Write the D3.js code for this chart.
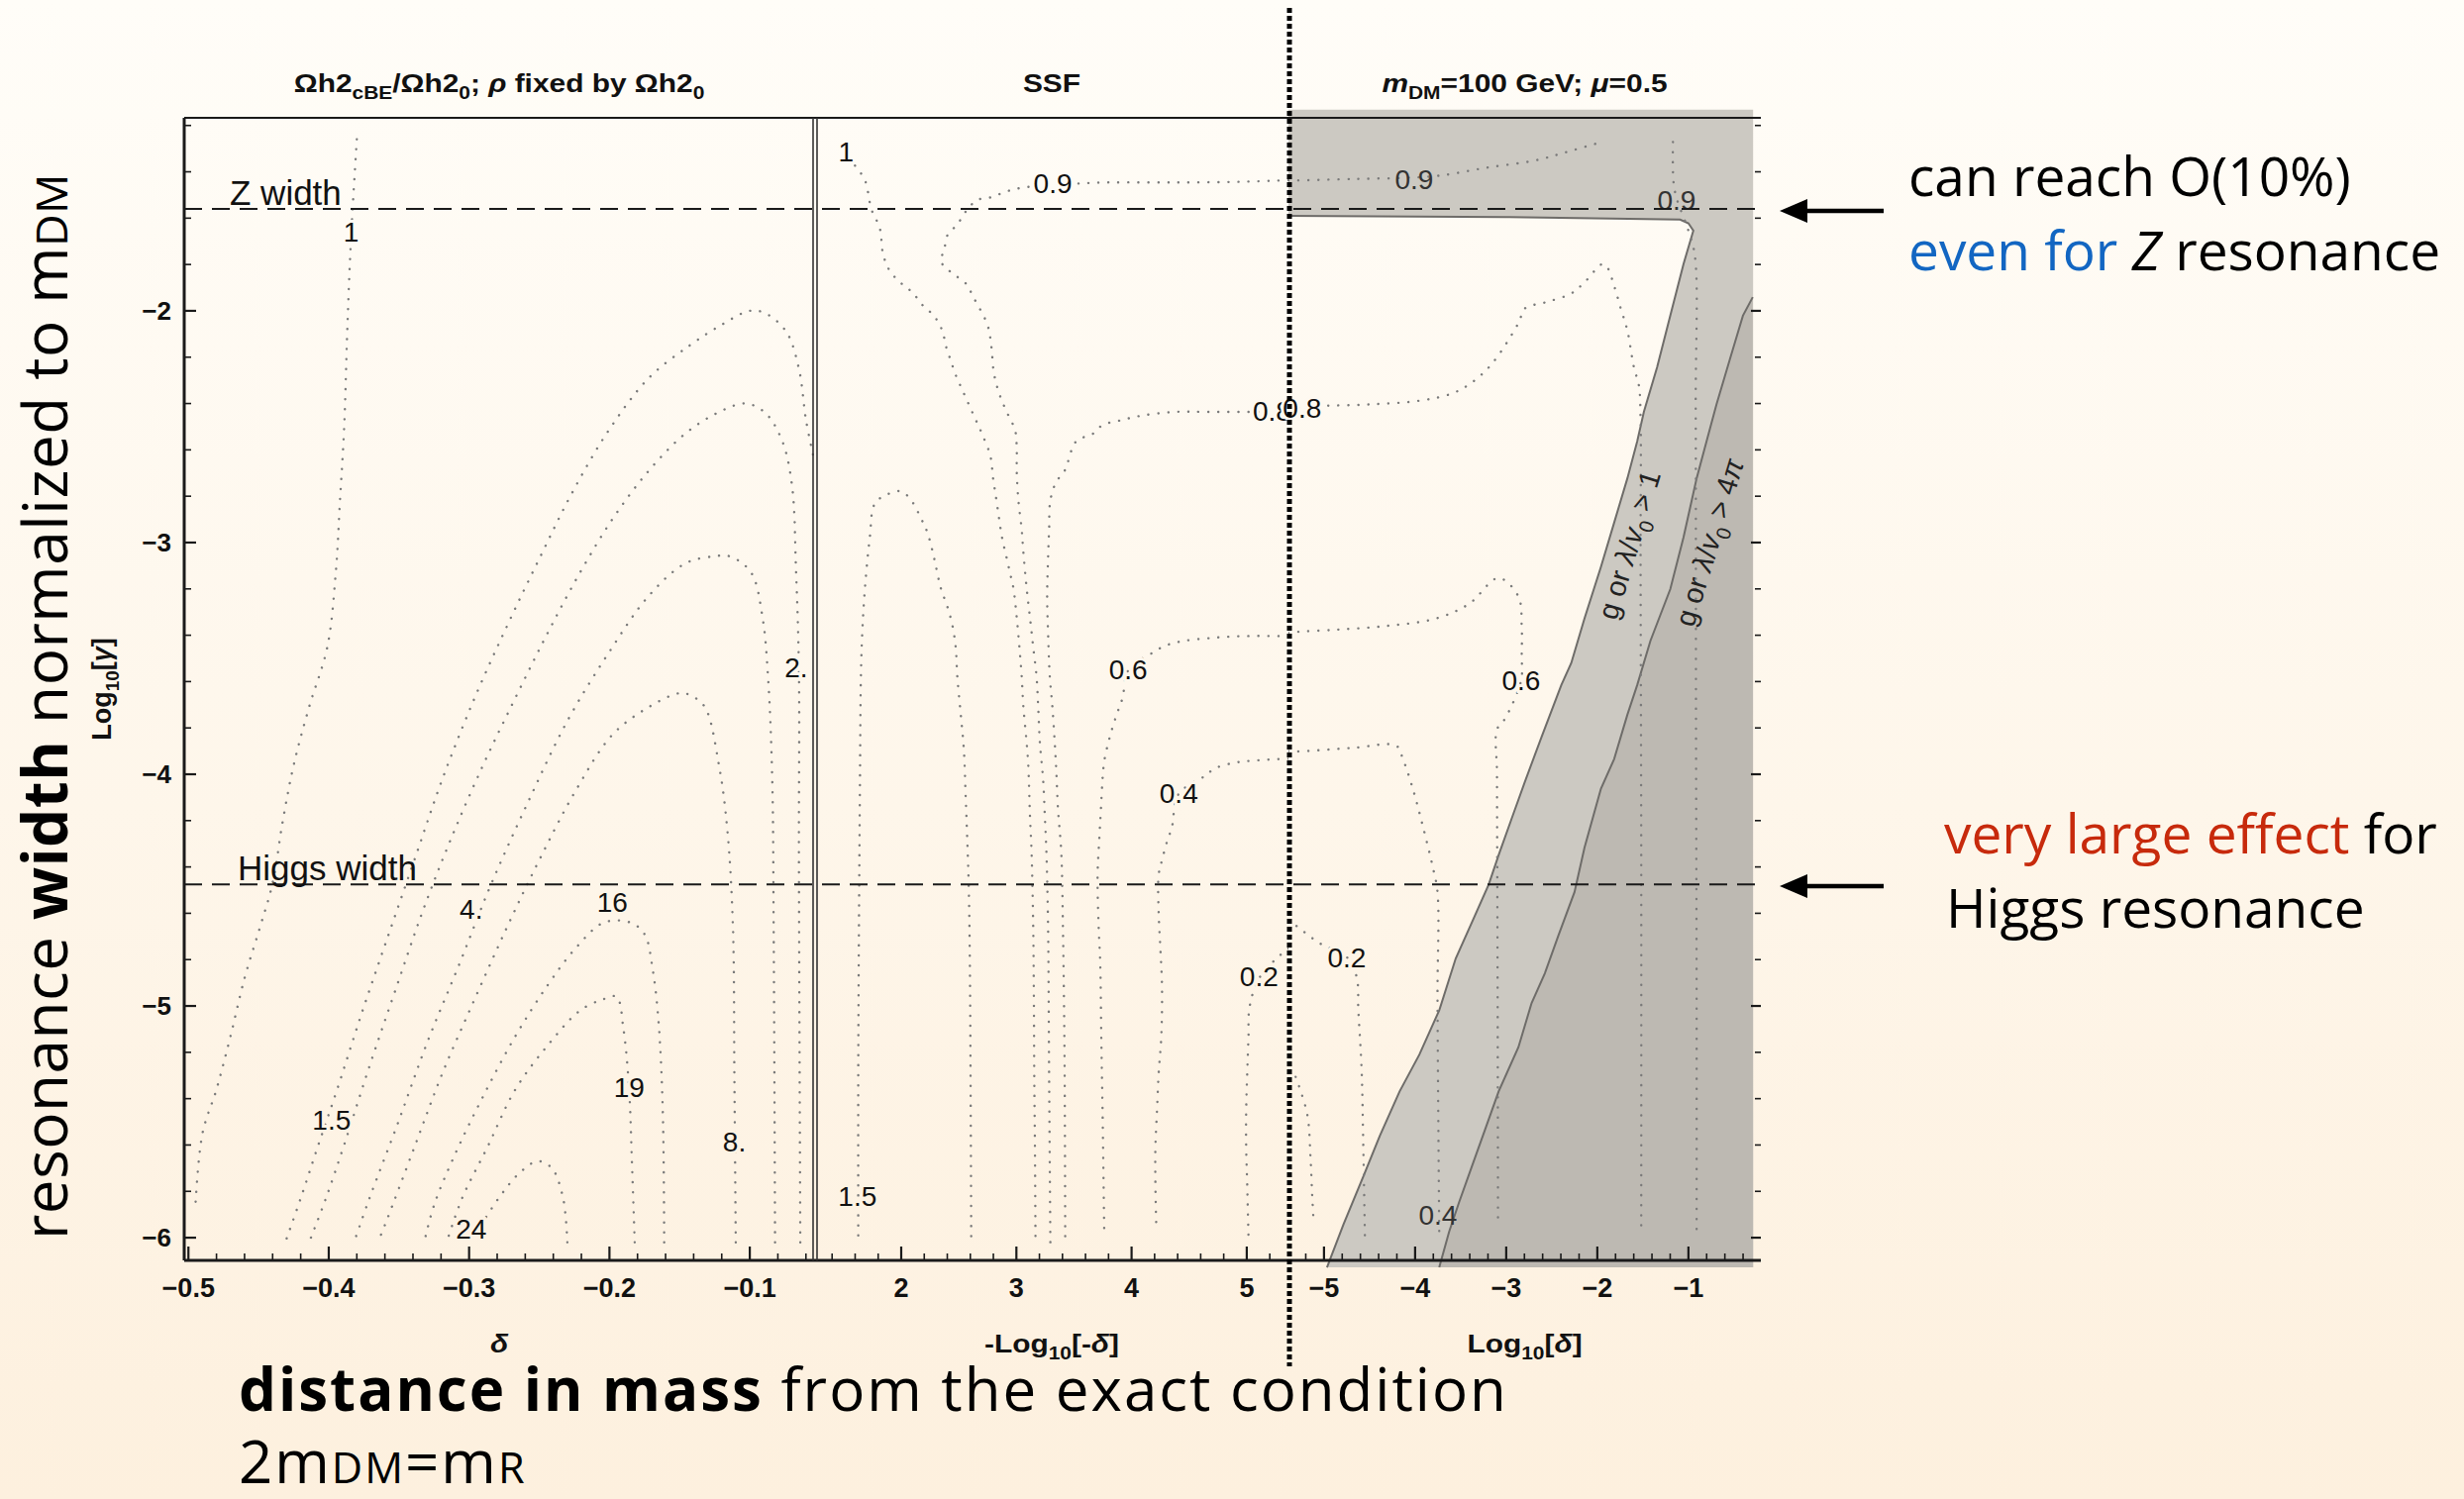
<!DOCTYPE html>
<html>
<head>
<meta charset="utf-8">
<title>Relic density ratio contours</title>
<script src="https://cdn.jsdelivr.net/npm/d3@7"></script>
<style>
  html, body { margin: 0; padding: 0; background: #fdf6ec; }
  svg text { font-family: "Liberation Sans", Arial, Helvetica, sans-serif; }
  svg .slide text { font-family: "Open Sans", Lato, sans-serif; }
</style>
</head>
<body>
<div id="chart"></div>
<script>
// 1: DATA
// y axis is Log10[gamma] for all three panels
const yTicks = [-2, -3, -4, -5, -6];
const zWidth = -1.56;
const higgsWidth = -4.475;

// x ticks of the three panels: delta, -Log10[-delta], Log10[delta]
const leftTicks = [-0.5, -0.4, -0.3, -0.2, -0.1];
const midTicks = [2, 3, 4, 5];
const rightTicks = [-5, -4, -3, -2, -1];

// left panel contours  [delta, Log10 gamma]
const left_c1 = [[-0.380,-1.26],[-0.383,-1.56],[-0.385,-1.80],[-0.387,-2.12],[-0.389,-2.50],[-0.392,-2.82],[-0.395,-3.13],[-0.401,-3.45],[-0.414,-3.71],[-0.425,-3.96],[-0.433,-4.21],[-0.440,-4.47],[-0.449,-4.66],[-0.460,-4.88],[-0.470,-5.13],[-0.480,-5.36],[-0.490,-5.55],[-0.495,-5.86]];
const left_c1p5 = [[-0.055,-2.62],[-0.060,-2.47],[-0.065,-2.25],[-0.074,-2.09],[-0.089,-2.01],[-0.100,-2.00],[-0.120,-2.06],[-0.143,-2.15],[-0.172,-2.29],[-0.201,-2.52],[-0.227,-2.79],[-0.250,-3.07],[-0.273,-3.36],[-0.296,-3.67],[-0.319,-4.02],[-0.339,-4.37],[-0.359,-4.72],[-0.377,-5.04],[-0.394,-5.36],[-0.408,-5.61],[-0.420,-5.83],[-0.431,-6.02]];
const left_c2 = [[-0.064,-6.02],[-0.065,-4.34],[-0.065,-3.55],[-0.067,-3.13],[-0.070,-2.75],[-0.077,-2.56],[-0.089,-2.44],[-0.103,-2.40],[-0.123,-2.44],[-0.146,-2.53],[-0.172,-2.69],[-0.198,-2.90],[-0.221,-3.13],[-0.244,-3.39],[-0.267,-3.67],[-0.290,-3.96],[-0.313,-4.28],[-0.333,-4.59],[-0.353,-4.94],[-0.371,-5.26],[-0.388,-5.58],[-0.402,-5.83],[-0.414,-6.02]];
const left_c4 = [[-0.082,-6.02],[-0.083,-4.66],[-0.084,-4.02],[-0.087,-3.58],[-0.091,-3.32],[-0.099,-3.13],[-0.114,-3.06],[-0.126,-3.06],[-0.146,-3.09],[-0.172,-3.23],[-0.201,-3.48],[-0.230,-3.77],[-0.258,-4.12],[-0.284,-4.47],[-0.307,-4.82],[-0.330,-5.16],[-0.351,-5.51],[-0.371,-5.83],[-0.382,-6.02]];
const left_c8 = [[-0.110,-6.02],[-0.111,-5.29],[-0.112,-4.66],[-0.116,-4.24],[-0.122,-3.96],[-0.132,-3.71],[-0.142,-3.66],[-0.150,-3.65],[-0.172,-3.71],[-0.198,-3.83],[-0.224,-4.07],[-0.250,-4.37],[-0.273,-4.66],[-0.296,-4.97],[-0.319,-5.29],[-0.339,-5.61],[-0.359,-5.93],[-0.365,-6.02]];
const left_c16 = [[-0.161,-6.02],[-0.162,-5.45],[-0.165,-5.07],[-0.169,-4.85],[-0.175,-4.69],[-0.185,-4.64],[-0.204,-4.64],[-0.224,-4.75],[-0.244,-4.91],[-0.267,-5.13],[-0.290,-5.39],[-0.310,-5.64],[-0.325,-5.86],[-0.332,-6.02]];
const left_c19 = [[-0.182,-6.02],[-0.184,-5.67],[-0.186,-5.36],[-0.190,-5.10],[-0.195,-4.96],[-0.204,-4.97],[-0.221,-5.02],[-0.244,-5.17],[-0.267,-5.36],[-0.287,-5.61],[-0.305,-5.83],[-0.316,-6.02]];
const left_c24 = [[-0.230,-6.02],[-0.233,-5.83],[-0.241,-5.70],[-0.251,-5.67],[-0.264,-5.72],[-0.279,-5.83],[-0.296,-5.99]];
const leftLabels = [["1",-0.384,-1.66],["1.5",-0.398,-5.49],["2.",-0.067,-3.54],["4.",-0.2985,-4.58],["16",-0.198,-4.55],["19",-0.186,-5.35],["8.",-0.111,-5.585],["24",-0.2985,-5.96]];

// middle panel contours  [-Log10(-delta), Log10 gamma]
const mid_c1 = [[1.599,-1.373],[1.685,-1.436],[1.742,-1.563],[1.814,-1.643],[1.842,-1.754],[1.900,-1.827],[2.000,-1.881],[2.100,-1.922],[2.186,-1.976],[2.287,-2.023],[2.358,-2.087],[2.387,-2.150],[2.430,-2.214],[2.473,-2.277],[2.530,-2.341],[2.587,-2.404],[2.645,-2.468],[2.702,-2.531],[2.774,-2.626],[2.797,-2.721],[2.817,-2.785],[2.845,-2.880],[2.874,-2.975],[2.917,-3.070],[2.946,-3.134],[2.974,-3.197],[3.003,-3.324],[3.026,-3.451],[3.046,-3.578],[3.060,-3.705],[3.089,-3.864],[3.103,-3.959],[3.118,-4.181],[3.132,-4.340],[3.146,-4.657],[3.152,-4.974],[3.155,-5.292],[3.161,-5.609],[3.166,-6.021]];
const mid_c09 = [[5.362,-1.436],[4.952,-1.443],[4.379,-1.446],[3.806,-1.446],[3.490,-1.452],[3.060,-1.468],[2.917,-1.484],[2.788,-1.509],[2.659,-1.522],[2.573,-1.563],[2.487,-1.627],[2.401,-1.674],[2.373,-1.738],[2.344,-1.785],[2.430,-1.833],[2.559,-1.881],[2.630,-1.944],[2.745,-2.055],[2.774,-2.119],[2.788,-2.182],[2.802,-2.261],[2.831,-2.325],[2.874,-2.388],[2.931,-2.452],[2.989,-2.515],[3.003,-2.595],[3.003,-2.690],[3.017,-2.817],[3.046,-2.944],[3.060,-3.039],[3.089,-3.197],[3.118,-3.324],[3.146,-3.451],[3.175,-3.578],[3.189,-3.705],[3.204,-3.864],[3.232,-4.022],[3.247,-4.181],[3.261,-4.340],[3.275,-4.657],[3.284,-5.292],[3.295,-6.021]];
const mid_c08 = [[5.362,-2.436],[5.095,-2.436],[4.665,-2.436],[4.379,-2.436],[4.092,-2.452],[3.892,-2.474],[3.748,-2.493],[3.662,-2.531],[3.519,-2.563],[3.419,-2.690],[3.347,-2.737],[3.295,-2.817],[3.284,-2.944],[3.275,-3.070],[3.267,-3.229],[3.275,-3.388],[3.290,-3.578],[3.312,-3.705],[3.333,-3.864],[3.347,-3.991],[3.361,-4.149],[3.390,-4.340],[3.404,-4.657],[3.413,-4.974],[3.419,-5.292],[3.424,-6.021]];
const mid_c15 = [[1.627,-5.99],[1.627,-5.292],[1.633,-4.657],[1.642,-4.022],[1.650,-3.578],[1.662,-3.388],[1.685,-3.197],[1.728,-2.975],[1.771,-2.832],[1.885,-2.791],[2.000,-2.779],[2.086,-2.817],[2.172,-2.896],[2.229,-2.959],[2.287,-3.070],[2.344,-3.197],[2.401,-3.277],[2.444,-3.356],[2.473,-3.451],[2.487,-3.578],[2.516,-3.737],[2.544,-3.895],[2.559,-4.086],[2.573,-4.276],[2.587,-4.498],[2.596,-4.816],[2.602,-5.292],[2.608,-6.021]];
const mid_c06 = [[5.362,-3.404],[4.952,-3.404],[4.665,-3.413],[4.436,-3.426],[4.293,-3.445],[4.178,-3.477],[3.977,-3.546],[3.920,-3.673],[3.863,-3.753],[3.806,-3.848],[3.763,-3.943],[3.748,-4.022],[3.734,-4.149],[3.720,-4.276],[3.705,-4.435],[3.714,-4.657],[3.728,-4.816],[3.737,-5.133],[3.748,-5.450],[3.757,-5.768],[3.763,-5.990]];
const mid_c04 = [[5.362,-3.933],[5.009,-3.943],[4.866,-3.953],[4.723,-3.975],[4.637,-4.007],[4.407,-4.086],[4.350,-4.229],[4.307,-4.292],[4.264,-4.371],[4.235,-4.435],[4.235,-4.593],[4.250,-4.752],[4.264,-4.911],[4.258,-5.133],[4.235,-5.292],[4.221,-5.450],[4.207,-5.609],[4.207,-5.768],[4.215,-5.958]];
const mid_c02 = [[5.362,-4.752],[5.296,-4.778],[5.109,-4.879],[5.024,-5.006],[5.015,-5.133],[5.004,-5.292],[4.995,-5.450],[4.995,-5.609],[5.004,-5.768],[5.015,-5.990]];
const midLabels = [["1",1.52,-1.31],["0.9",3.316,-1.45],["0.8",5.22,-2.43],["1.5",1.62,-5.82],["0.6",3.97,-3.545],["0.4",4.41,-4.08],["0.2",5.107,-4.87]];

// right panel contours  [Log10(delta), Log10 gamma]
const right_c09a = [[-5.39,-1.437],[-5.311,-1.437],[-4.677,-1.431],[-4.025,-1.425],[-3.699,-1.415],[-3.228,-1.383],[-2.685,-1.351],[-2.323,-1.313],[-1.960,-1.272]];
const right_c09b = [[-1.170,-1.272],[-1.163,-1.447],[-1.127,-1.517],[-1.000,-1.654],[-0.928,-1.766],[-0.920,-2.404],[-0.917,-3.679],[-0.910,-4.955],[-0.910,-5.991]];
const right_c08 = [[-5.39,-2.42],[-5.0,-2.41],[-4.496,-2.404],[-3.953,-2.388],[-3.590,-2.356],[-3.373,-2.308],[-3.156,-2.228],[-2.866,-2.053],[-2.793,-1.989],[-2.576,-1.964],[-2.286,-1.925],[-2.141,-1.877],[-1.942,-1.798],[-1.888,-1.814],[-1.815,-1.893],[-1.743,-1.989],[-1.670,-2.085],[-1.598,-2.244],[-1.543,-2.324],[-1.525,-2.467],[-1.525,-3.041],[-1.518,-4.317],[-1.518,-5.959]];
const right_c06 = [[-5.39,-3.39],[-5.311,-3.386],[-4.859,-3.376],[-4.315,-3.360],[-3.772,-3.328],[-3.409,-3.265],[-3.083,-3.153],[-2.866,-3.233],[-2.830,-3.360],[-2.830,-3.488],[-2.836,-3.594],[-3.011,-3.759],[-3.101,-3.807],[-3.101,-3.998],[-3.094,-4.955],[-3.090,-5.943]];
const right_c04 = [[-5.39,-3.90],[-5.311,-3.902],[-4.677,-3.886],[-4.206,-3.877],[-4.134,-3.934],[-4.025,-4.062],[-3.917,-4.221],[-3.808,-4.397],[-3.754,-4.508],[-3.754,-4.955],[-3.743,-5.593],[-3.735,-5.975]];
const right_c02 = [[-5.39,-4.63],[-5.311,-4.652],[-5.040,-4.731],[-4.750,-4.789],[-4.641,-4.875],[-4.623,-5.019],[-4.587,-5.274],[-4.569,-5.593],[-4.551,-5.991]];
const right_c01 = [[-5.311,-5.306],[-5.185,-5.465],[-5.148,-5.656],[-5.130,-5.816],[-5.112,-5.943]];
const rightLabels = [["0.8",-5.24,-2.42],["0.9",-4.01,-1.43],["0.9",-1.13,-1.52],["0.6",-2.836,-3.594],["0.2",-4.75,-4.79],["0.4",-3.75,-5.90]];

// excluded regions: g or lambda/v0 > 1 (inner edge) and > 4 pi (outer edge)
const boundaryInner = [[-5.39,-1.59],[-3.0,-1.595],[-1.091,-1.606],[-1.000,-1.622],[-0.946,-1.654],[-1.054,-1.798],[-1.199,-2.021],[-1.344,-2.244],[-1.489,-2.436],[-1.562,-2.563],[-1.670,-2.723],[-1.815,-2.914],[-1.960,-3.105],[-2.141,-3.328],[-2.286,-3.520],[-2.395,-3.615],[-2.612,-3.839],[-2.793,-4.030],[-2.938,-4.189],[-3.083,-4.349],[-3.192,-4.476],[-3.373,-4.636],[-3.554,-4.795],[-3.735,-5.019],[-3.953,-5.210],[-4.170,-5.369],[-4.388,-5.561],[-4.569,-5.736],[-4.786,-5.943],[-4.967,-6.128]];
const boundaryOuter = [[-0.294,-1.941],[-0.402,-2.021],[-0.547,-2.212],[-0.692,-2.404],[-0.801,-2.563],[-0.910,-2.723],[-1.054,-2.978],[-1.199,-3.201],[-1.417,-3.424],[-1.562,-3.615],[-1.670,-3.743],[-1.815,-3.934],[-1.960,-4.062],[-2.141,-4.317],[-2.250,-4.508],[-2.431,-4.700],[-2.576,-4.859],[-2.721,-4.987],[-2.866,-5.178],[-3.083,-5.369],[-3.228,-5.529],[-3.373,-5.688],[-3.518,-5.848],[-3.627,-5.975],[-3.735,-6.128]];
const greyTop = -1.132, greyBottom = -6.128, greyRight = -0.29;

// colours
const bgTop = "#fffdf8", bgBottom = "#fdf0de";
const greyLight = "#ccc9c2", greyDark = "#bdb9b2";
const ink = "#1a1a1a";

// 2: CREATE SVG + BACKGROUND
const svg = d3.select("#chart").append("svg")
    .attr("width", 2488)
    .attr("height", 1514);

const defs = svg.append("defs");
const grad = defs.append("linearGradient").attr("id", "bg")
    .attr("x1", 0).attr("y1", 0).attr("x2", 0).attr("y2", 1);
grad.append("stop").attr("offset", "0%").attr("stop-color", bgTop);
grad.append("stop").attr("offset", "100%").attr("stop-color", bgBottom);
const bgAt = d3.interpolateRgb(bgTop, bgBottom);

defs.append("filter").attr("id", "blur")
    .attr("x", "-2").attr("width", "5")
    .append("feGaussianBlur").attr("stdDeviation", 4);

svg.append("rect").attr("width", 2488).attr("height", 1514).attr("fill", "url(#bg)");

// 3: SCALES (one shared y, one x per panel)
const plotTop = 119, plotBottom = 1273;
const y = d3.scaleLinear().domain([-6.098, -1.167]).range([plotBottom, plotTop]);
const xLeft = d3.scaleLinear().domain([-0.503, -0.0542]).range([186, 822]);
const xMid = d3.scaleLinear().domain([1.252, 5.362]).range([823, 1301]);
const xRight = d3.scaleLinear().domain([-5.39, -0.205]).range([1301, 1778]);

// helper for text with subscripts / italics / small caps
function rich(text, parts, size) {
    let lowered = 0;
    parts.forEach(([str, kind]) => {
        const t = text.append("tspan").text(str);
        if (kind === "sub") {
            t.attr("font-size", size * 0.7).attr("dy", size * 0.28 - lowered);
            lowered = size * 0.28;
        } else if (lowered) {
            t.attr("dy", -lowered);
            lowered = 0;
        }
        if (kind === "i") t.attr("font-style", "italic");
        if (kind === "b") t.attr("font-weight", "bold");
        if (kind === "sc") t.attr("font-size", size * 0.72);
    });
}

// 4: GREY EXCLUDED REGION (right panel)
const toPx = p => [xRight(p[0]), y(p[1])];
const lightPoly = [[xRight.domain()[0], greyTop], [greyRight, greyTop], [greyRight, greyBottom]]
    .concat(boundaryInner.slice().reverse()).map(toPx);
const darkPoly = boundaryOuter.concat([[greyRight, greyBottom]]).map(toPx);

svg.append("path").attr("d", "M" + lightPoly.join("L") + "Z").attr("fill", greyLight);
svg.append("path").attr("d", "M" + darkPoly.join("L") + "Z").attr("fill", greyDark);

const edge = d3.line().x(d => xRight(d[0])).y(d => y(d[1]));
[boundaryInner, boundaryOuter].forEach(b => {
    svg.append("path").attr("d", edge(b))
        .attr("fill", "none").attr("stroke", "#6e6c69").attr("stroke-width", 2);
});

// 5: CONTOURS
const panels = [
    { id: "pl", xs: xLeft, lines: [left_c1, left_c1p5, left_c2, left_c4, left_c8, left_c16, left_c19, left_c24], labels: leftLabels },
    { id: "pm", xs: xMid, lines: [mid_c1, mid_c09, mid_c08, mid_c15, mid_c06, mid_c04, mid_c02], labels: midLabels },
    { id: "pr", xs: xRight, lines: [right_c09a, right_c09b, right_c08, right_c06, right_c04, right_c02, right_c01], labels: rightLabels }
];

panels.forEach(p => {
    const [x0, x1] = p.xs.range();
    defs.append("clipPath").attr("id", "clip-" + p.id)
        .append("rect").attr("x", x0).attr("y", plotTop).attr("width", x1 - x0).attr("height", plotBottom - plotTop);

    const line = d3.line()
        .x(d => p.xs(d[0]))
        .y(d => y(d[1]))
        .curve(d3.curveCatmullRom.alpha(0.5));

    const g = svg.append("g").attr("clip-path", `url(#clip-${p.id})`);
    g.selectAll("path")
        .data(p.lines)
        .enter()
        .append("path")
        .attr("d", line)
        .attr("fill", "none")
        .attr("stroke", "#7a7a7a")
        .attr("stroke-width", 2.4)
        .attr("stroke-linecap", "round")
        .attr("stroke-dasharray", "0.1,10");

    // labels, with a halo of the background where they sit on it
    p.labels.forEach(([txt, lx, ly]) => {
        const px = p.xs(lx), py = y(ly);
        const onGrey = p.id === "pr" && (d3.polygonContains(lightPoly, [px, py]) || d3.polygonContains(darkPoly, [px, py]));
        svg.append("text")
            .attr("x", px).attr("y", py)
            .attr("dy", "0.36em")
            .attr("text-anchor", "middle")
            .attr("font-size", 28)
            .attr("fill", onGrey ? "#333" : "#111")
            .attr("stroke", onGrey ? "none" : bgAt(py / 1514))
            .attr("stroke-width", 6)
            .attr("paint-order", "stroke")
            .text(txt);
    });
});

// rotated labels of the excluded bands
[[["g or ", ""], ["λ", "i"], ["/", ""], ["v", "i"], ["0", "sub"], [" > 1", ""]],
 [["g or ", ""], ["λ", "i"], ["/", ""], ["v", "i"], ["0", "sub"], [" > 4", ""], ["π", "i"]]]
    .forEach((parts, i) => {
        const pos = i === 0 ? [-1.652, -3.01] : [-0.772, -3.0];
        const t = svg.append("text")
            .attr("transform", `translate(${xRight(pos[0])},${y(pos[1])}) rotate(-73)`)
            .attr("text-anchor", "middle")
            .attr("dy", "0.35em")
            .attr("font-size", 29)
            .attr("fill", "#222");
        rich(t, parts, 29);
    });

// 6: Z AND HIGGS WIDTH LINES
[[zWidth, "Z width"], [higgsWidth, "Higgs width"]].forEach(([w, name]) => {
    svg.append("line")
        .attr("x1", 186).attr("x2", 1778)
        .attr("y1", y(w)).attr("y2", y(w))
        .attr("stroke", ink).attr("stroke-width", 2)
        .attr("stroke-dasharray", "18,10");
    svg.append("text")
        .attr("x", w === zWidth ? 232 : 240)
        .attr("y", y(w) - 4)
        .attr("font-size", 35)
        .attr("fill", "#111")
        .text(name);
});

// 7: FRAME + AXES
svg.append("line").attr("x1", 186).attr("x2", 1778).attr("y1", plotTop).attr("y2", plotTop)
    .attr("stroke", ink).attr("stroke-width", 2);
svg.append("line").attr("x1", 186).attr("x2", 1778).attr("y1", plotBottom).attr("y2", plotBottom)
    .attr("stroke", ink).attr("stroke-width", 3);
svg.append("line").attr("x1", 186).attr("x2", 186).attr("y1", plotTop).attr("y2", plotBottom)
    .attr("stroke", ink).attr("stroke-width", 3);

// double line between left and middle panel
[821, 825].forEach(xx => {
    svg.append("line").attr("x1", xx).attr("x2", xx).attr("y1", plotTop).attr("y2", plotBottom)
        .attr("stroke", "#333").attr("stroke-width", 1.6);
});

// x ticks (major + minor, pointing up)
const xTickSets = [
    { xs: xLeft, major: leftTicks, minor: d3.range(0, 23).map(i => -0.5 + i * 0.02), fmt: d => d.toFixed(1).replace("-", "−") },
    { xs: xMid, major: midTicks, minor: d3.range(0, 21).map(i => 1.4 + i * 0.2), fmt: d => d3.format("d")(d) },
    { xs: xRight, major: rightTicks, minor: d3.range(0, 25).map(i => -5.2 + i * 0.2), fmt: d => String(d).replace("-", "−") }
];
xTickSets.forEach(s => {
    const [lo, hi] = s.xs.domain();
    s.minor.filter(v => v >= lo && v <= hi).forEach(v => {
        const isMajor = s.major.some(m => Math.abs(m - v) < 1e-6);
        svg.append("line")
            .attr("x1", s.xs(v)).attr("x2", s.xs(v))
            .attr("y1", plotBottom).attr("y2", plotBottom - (isMajor ? 14 : 7))
            .attr("stroke", ink).attr("stroke-width", isMajor ? 2.2 : 1.6);
    });
    s.major.forEach(v => {
        svg.append("text")
            .attr("x", s.xs(v)).attr("y", 1310)
            .attr("text-anchor", "middle")
            .attr("font-size", 27).attr("font-weight", "bold").attr("fill", "#111")
            .text(s.fmt(v));
    });
});

// y ticks, left side (pointing right) and right side (pointing left)
d3.range(0, 25).map(i => -6 + i * 0.2).forEach(v => {
    const isMajor = yTicks.some(m => Math.abs(m - v) < 1e-6);
    svg.append("line")
        .attr("x1", 186).attr("x2", 186 + (isMajor ? 12 : 7))
        .attr("y1", y(v)).attr("y2", y(v))
        .attr("stroke", ink).attr("stroke-width", isMajor ? 2.2 : 1.6);
    svg.append("line")
        .attr("x1", 1778).attr("x2", 1778 - (isMajor ? 10 : 6))
        .attr("y1", y(v)).attr("y2", y(v))
        .attr("stroke", ink).attr("stroke-width", isMajor ? 2.2 : 1.6);
});
yTicks.forEach(v => {
    svg.append("text")
        .attr("x", 173).attr("y", y(v)).attr("dy", "0.36em")
        .attr("text-anchor", "end")
        .attr("font-size", 26).attr("font-weight", "bold").attr("fill", "#111")
        .text(String(v).replace("-", "−"));
});

// thick dotted divider between middle and right panel
svg.append("line").attr("x1", 1302).attr("x2", 1302).attr("y1", 8).attr("y2", 1380)
    .attr("stroke", "#888").attr("stroke-width", 10).attr("opacity", 0.45)
    .attr("filter", "url(#blur)");
svg.append("line").attr("x1", 1302).attr("x2", 1302).attr("y1", 8).attr("y2", 1380)
    .attr("stroke", "#000").attr("stroke-width", 5)
    .attr("stroke-dasharray", "5,3");

// 8: PANEL TITLES + AXIS LABELS
const panelTitles = [
    [["Ωh2", ""], ["cBE", "sub"], ["/Ωh2", ""], ["0", "sub"], ["; ", ""], ["ρ", "i"], [" fixed by Ωh2", ""], ["0", "sub"]],
    [["SSF", ""]],
    [["m", "i"], ["DM", "sub"], ["=100 GeV; ", ""], ["μ", "i"], ["=0.5", ""]]
];
const axisTitles = [
    [["δ", "i"]],
    [["-Log", ""], ["10", "sub"], ["[-", ""], ["δ", "i"], ["]", ""]],
    [["Log", ""], ["10", "sub"], ["[", ""], ["δ", "i"], ["]", ""]]
];
[xLeft, xMid, xRight].forEach((xs, i) => {
    const cx = d3.mean(xs.range());
    const t = svg.append("text")
        .attr("transform", `translate(${cx},93) scale(1.15,1)`)
        .attr("text-anchor", "middle")
        .attr("font-size", 26).attr("font-weight", "bold").attr("fill", "#111");
    rich(t, panelTitles[i], 26);
    const a = svg.append("text")
        .attr("transform", `translate(${cx},1366) scale(1.15,1)`)
        .attr("text-anchor", "middle")
        .attr("font-size", 26).attr("font-weight", "bold").attr("fill", "#111");
    rich(a, axisTitles[i], 26);
});

const yLab = svg.append("text")
    .attr("transform", `translate(112,${(plotTop + plotBottom) / 2}) rotate(-90)`)
    .attr("text-anchor", "middle")
    .attr("font-size", 27).attr("font-weight", "bold").attr("fill", "#111");
rich(yLab, [["Log", ""], ["10", "sub"], ["[", ""], ["γ", "i"], ["]", ""]], 27);

// 9: SLIDE ANNOTATIONS
const notes = svg.append("g").attr("class", "slide");

const yTitle = notes.append("text")
    .attr("transform", "translate(68,1252) rotate(-90)")
    .attr("font-size", 62).attr("letter-spacing", 0.5).attr("fill", "#000");
rich(yTitle, [["resonance ", ""], ["width", "b"], [" normalized to m", ""], ["DM", "sc"]], 62);

const xTitle = notes.append("text").attr("x", 241).attr("y", 1425)
    .attr("font-size", 60).attr("letter-spacing", 2).attr("fill", "#000");
rich(xTitle, [["distance in mass", "b"], [" from the exact condition", ""]], 60);
const xTitle2 = notes.append("text").attr("x", 241).attr("y", 1498)
    .attr("font-size", 60).attr("letter-spacing", 2).attr("fill", "#000");
rich(xTitle2, [["2m", ""], ["DM", "sc"], ["=m", ""], ["R", "sc"]], 60);

[213, 895].forEach(ay => {
    notes.append("line").attr("x1", 1815).attr("x2", 1902).attr("y1", ay).attr("y2", ay)
        .attr("stroke", "#000").attr("stroke-width", 4.5);
    notes.append("path").attr("d", `M1797,${ay}L1825,${ay - 12}L1825,${ay + 12}Z`).attr("fill", "#000");
});

notes.append("text").attr("x", 1927).attr("y", 198).attr("font-size", 55).attr("fill", "#000")
    .text("can reach O(10%)");
const n2 = notes.append("text").attr("x", 1927).attr("y", 273).attr("font-size", 55).attr("fill", "#000");
n2.append("tspan").attr("fill", "#1266c2").text("even for ");
n2.append("tspan").attr("font-style", "italic").text("Z");
n2.append("tspan").text(" resonance");

const n3 = notes.append("text").attr("x", 1963).attr("y", 862).attr("font-size", 55).attr("fill", "#000");
n3.append("tspan").attr("fill", "#c72a0c").text("very large effect");
n3.append("tspan").text(" for");
notes.append("text").attr("x", 1965).attr("y", 937).attr("font-size", 55).attr("fill", "#000")
    .text("Higgs resonance");
</script>
</body>
</html>
